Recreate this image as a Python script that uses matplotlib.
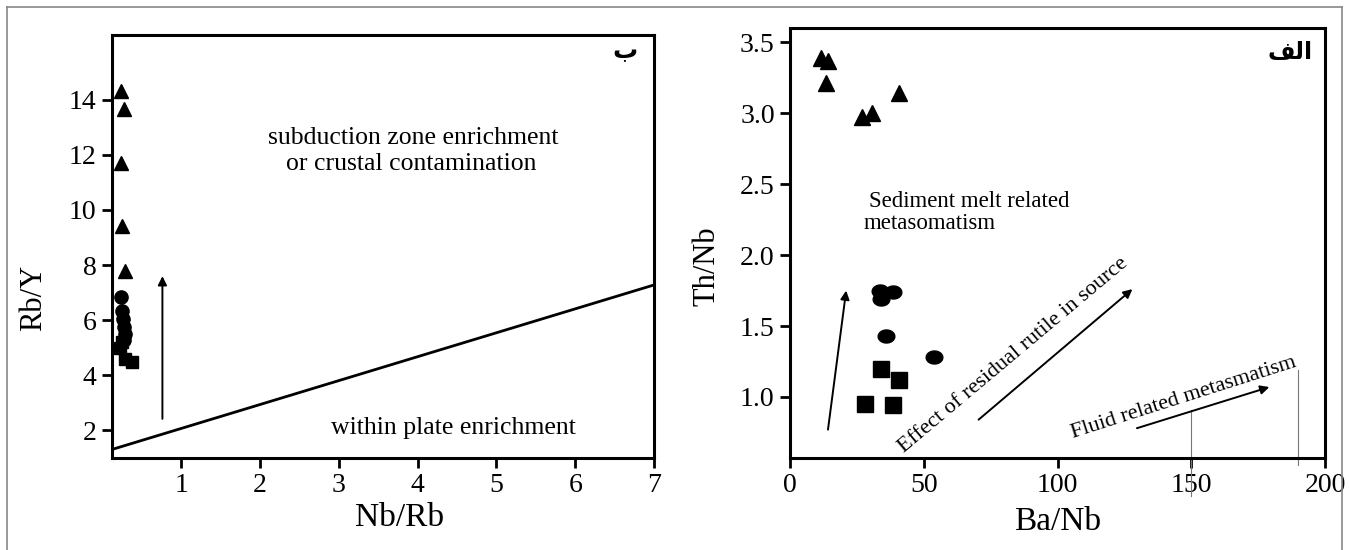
import matplotlib
matplotlib.use('Agg')
import matplotlib.pyplot as plt
from matplotlib.path import Path
from matplotlib.lines import Line2D
import numpy as np

plt.rcParams['font.family'] = ['Liberation Serif', 'DejaVu Serif', 'DejaVu Sans']

# ---------------- data: left panel (Nb/Rb vs Rb/Y) ----------------
left_tri_x = [0.24, 0.27, 0.24, 0.25, 0.28]
left_tri_y = [14.32, 13.67, 11.70, 9.42, 7.80]
left_circ_x = [0.24, 0.25, 0.26, 0.27, 0.28, 0.27]
left_circ_y = [6.85, 6.35, 6.05, 5.75, 5.50, 5.30]
left_sq_x = [0.22, 0.25, 0.29, 0.37]
left_sq_y = [5.00, 5.20, 4.60, 4.50]
left_line_x = [0.12, 7.0]
left_line_y = [1.31, 7.28]
left_arrow_x = [0.76, 0.76]
left_arrow_y = [2.42, 7.60]
left_xticks = [1, 2, 3, 4, 5, 6, 7]
left_yticks = [2, 4, 6, 8, 10, 12, 14]

# ---------------- data: right panel (Ba/Nb vs Th/Nb) ----------------
right_tri_x = [11.5, 14.3, 13.5, 26.9, 30.6, 40.8]
right_tri_y = [3.39, 3.37, 3.21, 2.97, 3.00, 3.14]
right_circ_x = [33.5, 38.5, 34.0, 36.0, 54.0]
right_circ_y = [1.75, 1.74, 1.69, 1.43, 1.28]
right_sq_x = [34.0, 40.8, 28.0, 38.5]
right_sq_y = [1.20, 1.12, 0.95, 0.94]
right_arrows_x = [[14.2, 21.0], [70.5, 128.0], [129.7, 179.2]]
right_arrows_y = [[0.77, 1.75], [0.84, 1.76], [0.78, 1.07]]
right_xticks = [0, 50, 100, 150, 200]
right_yticks = [1.0, 1.5, 2.0, 2.5, 3.0, 3.5]
right_ytick_labels = ['1.0', '1.5', '2.0', '2.5', '3.0', '3.5']
# faint scan marks crossing the bottom axis
scan_marks_x = [150, 190]
scan_marks_y = [[0.30, 0.91], [0.52, 1.19]]

W, H = 1349, 550
fig = plt.figure(figsize=(W / 100, H / 100), dpi=100)

def frac_box(l, t, r, b):
    return [l / W, 1 - b / H, (r - l) / W, (b - t) / H]

axL = fig.add_axes(frac_box(112, 35, 654, 458))
axR = fig.add_axes(frac_box(790, 28, 1325, 458))

_t = np.linspace(0, 2 * np.pi, 60)
ellipse = Path(np.column_stack([np.cos(_t), 0.78 * np.sin(_t)]), closed=True)

for ax in (axL, axR):
    for sp in ax.spines.values():
        sp.set_linewidth(2.2)
    ax.tick_params(direction='out', length=7, width=2, labelsize=20, pad=4)

# ---- left panel ----
axL.plot(left_line_x, left_line_y, color='black', lw=2.0)
axL.plot(left_tri_x, left_tri_y, ls='none', marker='^', ms=10.5, color='black')
axL.plot(left_circ_x, left_circ_y, ls='none', marker='o', ms=9.5, color='black')
axL.plot(left_sq_x, left_sq_y, ls='none', marker='s', ms=8, color='black')
axL.annotate('', xy=(left_arrow_x[1], left_arrow_y[1]), xytext=(left_arrow_x[0], left_arrow_y[0]),
             arrowprops=dict(arrowstyle='-|>', lw=1.4, color='black', mutation_scale=13,
                             shrinkA=0, shrinkB=0))
axL.set_xlim(0.12, 7.0)
axL.set_ylim(1.0, 16.35)
axL.set_xticks(left_xticks)
axL.set_yticks(left_yticks)
axL.set_xlabel('Nb/Rb', fontsize=24)
axL.set_ylabel('Rb/Y', fontsize=22)
axL.xaxis.set_label_coords(0.53, -0.142)
axL.xaxis.label.set_va('center')
axL.yaxis.set_label_coords(-0.145, 0.378)
axL.yaxis.label.set_va('center')
axL.text(3.95, 12.62, 'subduction zone enrichment', fontsize=18.5, ha='center', va='center')
axL.text(3.92, 11.67, 'or crustal contamination', fontsize=18.5, ha='center', va='center')
axL.text(4.45, 2.1, 'within plate enrichment', fontsize=18.5, ha='center', va='center')
axL.text(0.946, 0.962, 'ب', transform=axL.transAxes, fontsize=18, fontweight='bold',
         family=['DejaVu Sans'], ha='center', va='center')

# ---- right panel ----
axR.plot(right_tri_x, right_tri_y, ls='none', marker='^', ms=12, color='black')
axR.plot(right_circ_x, right_circ_y, ls='none', marker=ellipse, ms=12, color='black')
axR.plot(right_sq_x, right_sq_y, ls='none', marker='s', ms=11, color='black')
for ax_x, ax_y in zip(right_arrows_x, right_arrows_y):
    axR.annotate('', xy=(ax_x[1], ax_y[1]), xytext=(ax_x[0], ax_y[0]),
                 arrowprops=dict(arrowstyle='-|>', lw=1.4, color='black', mutation_scale=13,
                                 shrinkA=0, shrinkB=0))
for sx, sy in zip(scan_marks_x, scan_marks_y):
    axR.plot([sx, sx], sy, color='#777777', lw=0.8, clip_on=False)
axR.set_xlim(0, 200)
axR.set_ylim(0.57, 3.60)
axR.set_xticks(right_xticks)
axR.set_yticks(right_yticks)
axR.set_yticklabels(right_ytick_labels)
axR.set_xlabel('Ba/Nb', fontsize=24)
axR.set_ylabel('Th/Nb', fontsize=22)
axR.xaxis.set_label_coords(0.5, -0.149)
axR.xaxis.label.set_va('center')
axR.yaxis.set_label_coords(-0.155, 0.447)
axR.yaxis.label.set_va('center')
axR.text(29.5, 2.38, 'Sediment melt related', fontsize=16.5, ha='left', va='center')
axR.text(27.5, 2.22, 'metasomatism', fontsize=16.5, ha='left', va='center')
axR.text(83.4, 1.29, 'Effect of residual rutile in source', fontsize=16, rotation=40,
         ha='center', va='center', rotation_mode='anchor')
axR.text(147.3, 0.99, 'Fluid related metasmatism', fontsize=16, rotation=17.7,
         ha='center', va='center', rotation_mode='anchor')
axR.text(0.935, 0.944, '\ufed2\ufedf\ufe8d', transform=axR.transAxes, fontsize=17,
         fontweight='bold', family=['DejaVu Sans'], ha='center', va='center')

# outer frame of the figure image
for (x0, y0, x1, y1) in [(7, 7, 7, 550), (7, 7, 1342, 7), (1342, 7, 1342, 550)]:
    fig.add_artist(Line2D([x0 / W, x1 / W], [1 - y0 / H, 1 - y1 / H], color='#888888', lw=1.2))

fig.savefig('out.png', dpi=100)
